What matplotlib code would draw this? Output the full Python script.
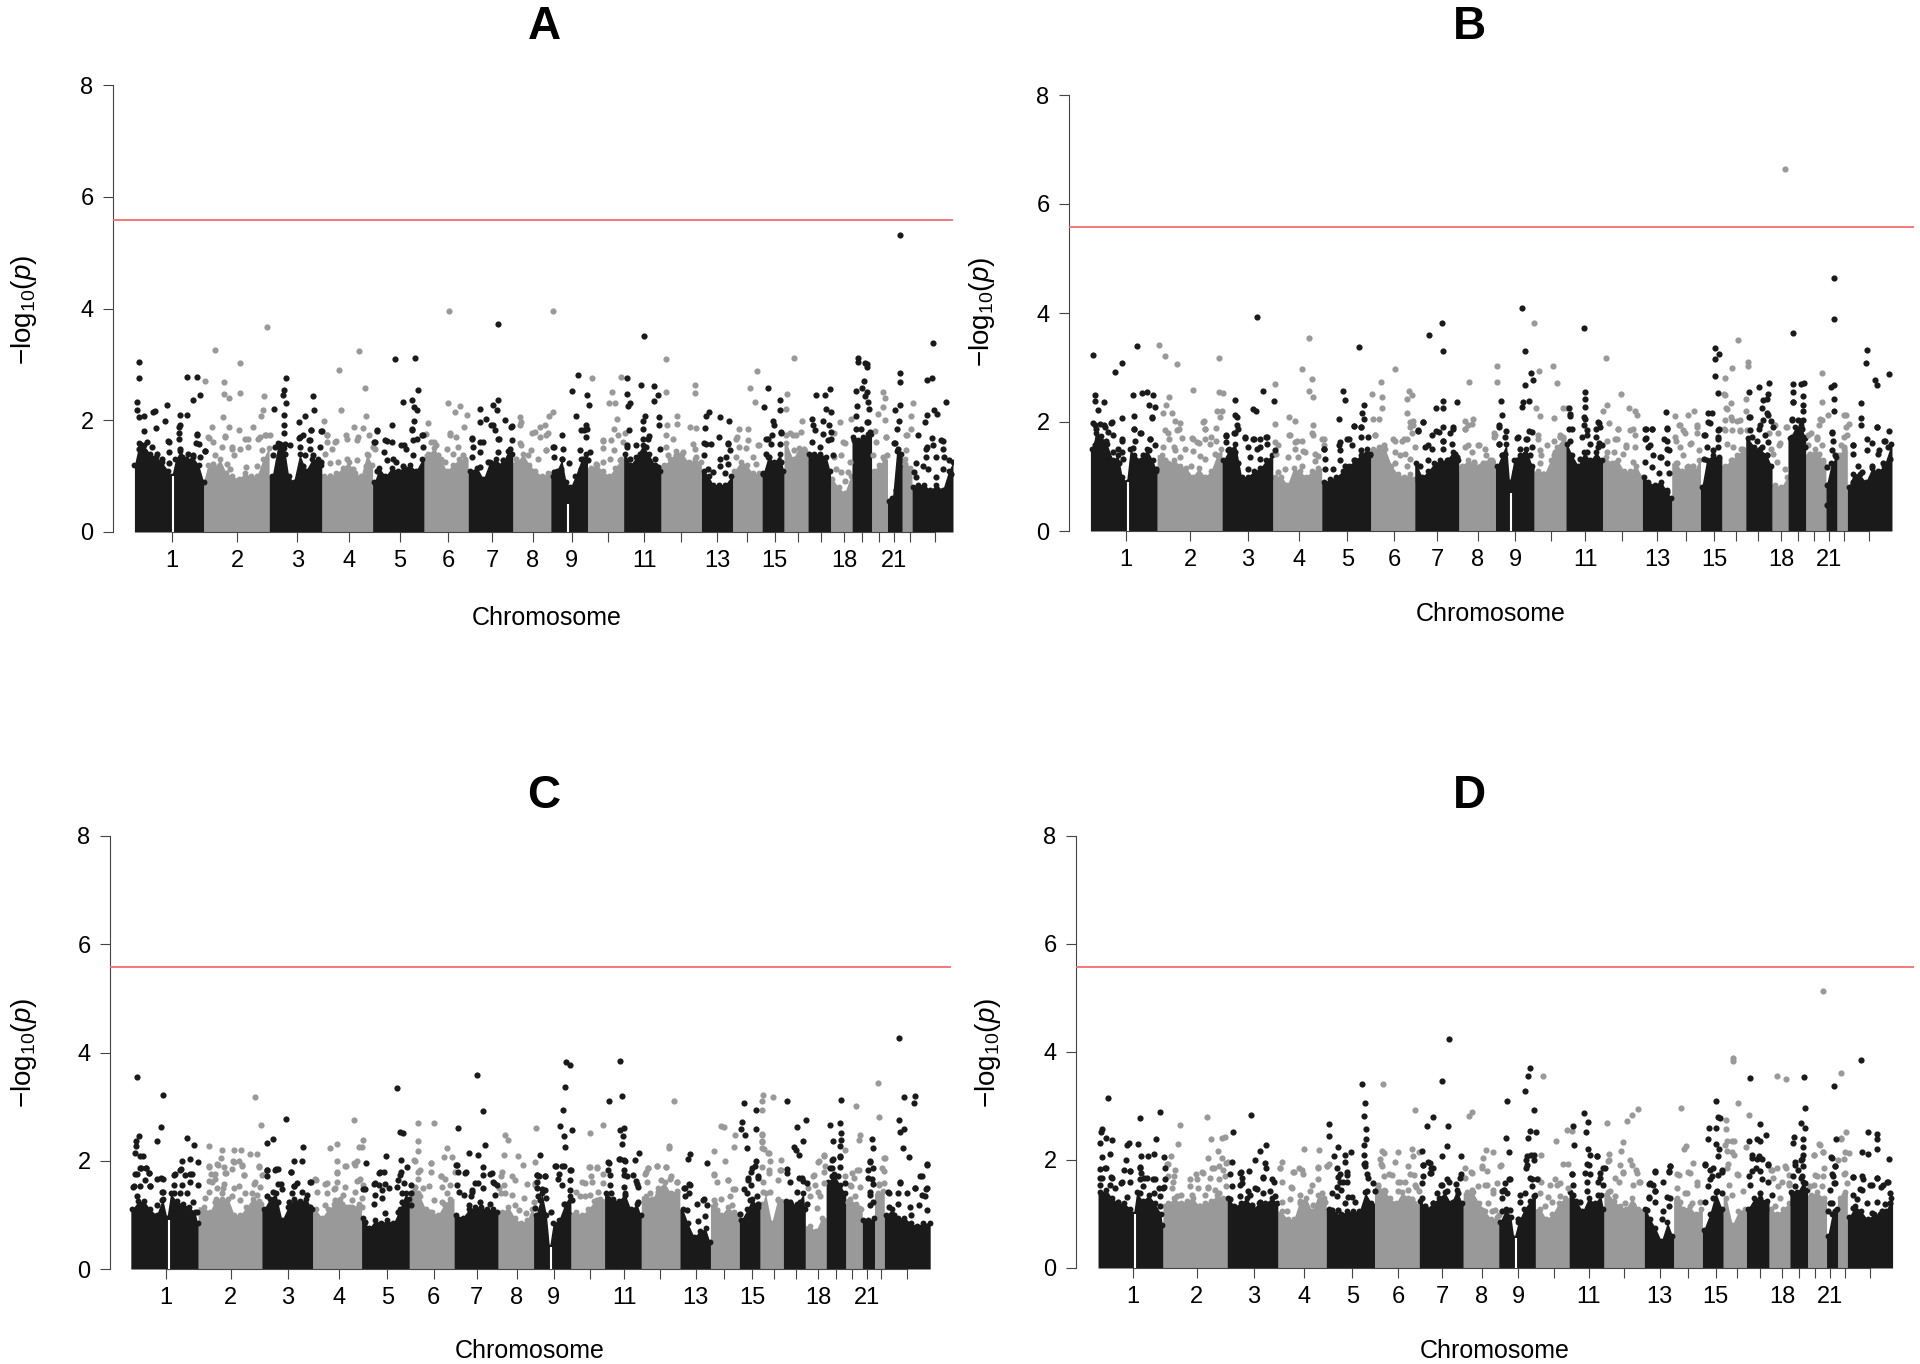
import numpy as np
import matplotlib
matplotlib.use('Agg')
import matplotlib.pyplot as plt

plt.rcParams['font.family'] = ['Liberation Sans', 'DejaVu Sans']
plt.rcParams['mathtext.fontset'] = 'custom'
plt.rcParams['mathtext.rm'] = 'Liberation Sans'
plt.rcParams['mathtext.it'] = 'Liberation Sans:italic'

tick_labels = ['1', '2', '3', '4', '5', '6', '7', '8', '9', '', '11', '', '13', '', '15', '', '', '18', '', '', '21', '', '']
threshold = 5.58

# position along the genome, one scale per panel, then -log10(p)
A_bounds = [220, 333, 440, 526, 609, 693, 765, 838, 900, 960, 1019, 1080, 1146, 1197, 1245, 1281, 1320, 1357, 1392, 1424, 1450, 1474, 1490, 1557]
A_ticks = [281, 388, 486, 571, 653, 732, 804, 871, 934, 994, 1053, 1112, 1172, 1220, 1266, 1304, 1341, 1379, 1409, 1436, 1461, 1486, 1528]
A_gaps = [(283, 1.0), (928, 0.5)]
A_top = [(220,1.2),(228,1.6),(236,1.55),(245,1.4),(255,1.35),(265,1.25),(275,1.1),(281,1.0),(287,1.3),(295,1.45),(305,1.3),(315,1.35),(325,1.2),(333,0.9),
         (340,1.2),(350,1.15),(360,1.3),(370,1.05),(380,1.0),(390,0.95),(400,1.05),(410,1.0),(420,1.0),(430,1.3),(439,1.5),
         (445,1.0),(455,1.6),(465,1.5),(472,1.0),(480,0.9),(490,1.4),(500,1.1),(510,1.3),(520,1.3),(525,1.2),
         (530,1.0),(540,1.0),(550,1.05),(560,1.15),(570,1.25),(580,1.05),(590,1.0),(600,1.4),(608,1.2),
         (612,0.9),(620,1.15),(630,1.0),(640,1.15),(650,1.1),(660,1.15),(670,1.2),(680,1.1),(690,1.3),
         (700,1.4),(710,1.5),(720,1.3),(730,1.1),(740,1.2),(750,1.3),(760,1.3),
         (768,1.1),(780,1.15),(790,0.95),(800,1.25),(810,1.3),(820,1.2),(830,1.45),(837,1.4),
         (845,1.25),(855,1.4),(865,1.2),(875,1.1),(885,1.0),(895,1.05),
         (903,1.0),(910,1.1),(918,1.3),(925,0.9),(932,0.8),(940,1.0),(950,1.3),(958,1.4),
         (965,1.15),(975,1.2),(985,1.1),(995,1.0),(1005,1.15),(1015,1.3),
         (1022,1.4),(1030,1.2),(1040,1.35),(1050,1.55),(1060,1.4),(1070,1.2),(1078,1.1),
         (1085,1.2),(1095,1.3),(1105,1.45),(1115,1.4),(1125,1.25),(1135,1.3),(1145,1.25),
         (1150,1.1),(1158,1.0),(1165,0.85),(1175,0.85),(1185,0.85),(1195,1.0),
         (1200,1.1),(1210,1.25),(1220,1.2),(1230,1.05),(1240,1.05),
         (1247,1.05),(1255,1.35),(1265,1.25),(1275,1.4),(1280,1.1),
         (1285,1.6),(1295,1.3),(1305,1.5),(1315,1.45),
         (1322,1.4),(1330,1.4),(1340,1.4),(1350,1.35),(1356,1.1),
         (1360,0.95),(1370,0.8),(1380,0.7),(1390,1.0),
         (1394,1.7),(1402,1.65),(1410,1.7),(1418,1.75),(1423,1.75),
         (1428,1.1),(1436,1.2),(1445,1.3),
         (1452,0.55),(1458,0.6),(1465,1.45),(1472,1.4),
         (1478,1.3),(1486,1.15),
         (1492,0.8),(1500,0.85),(1510,0.85),(1520,0.75),(1530,0.85),(1540,0.75),(1550,1.1),(1557,1.25)]
A_black = [(228,3.04),(228,2.76),(225,2.32),(225,2.19),(228,2.05),(236,2.07),(250,2.14),(253,2.17),(273,2.28),(270,1.99),(255,1.87),(235,1.81),(275,1.63),
           (306,2.77),(322,2.77),(327,2.46),(315,2.36),(306,2.09),(295,2.10),(295,1.92),(293,1.77),(322,1.76),(320,1.59),(335,1.45),
           (467,2.76),(464,2.54),(462,2.45),(448,2.21),(467,2.30),(465,2.10),(465,1.92),(512,2.43),(498,2.08),(513,2.18),(488,1.96),(525,1.81),(508,1.83),(464,1.77),(490,1.70),(505,1.64),
           (645,3.10),(678,3.12),(683,2.55),(658,2.32),(673,2.36),(676,2.23),(681,2.18),(640,1.92),(676,1.99),(617,1.81),(673,1.85),(632,1.63),(612,1.61),(660,1.55),(690,1.74),
           (814,3.73),(814,2.36),(805,2.28),(785,2.20),(812,2.18),(795,2.03),(825,2.01),(835,1.88),(805,1.92),(785,1.96),(772,1.69),(790,1.61),(815,1.66),
           (945,2.81),(935,2.53),(960,2.46),(963,2.28),(941,2.08),(958,1.92),(918,1.74),(950,1.83),(960,1.85),(905,1.52),
           (1052,3.50),(1024,2.75),(1048,2.63),(1069,2.61),(1025,2.47),(1075,2.46),(1069,2.34),(1030,2.31),(1026,2.25),(1054,2.07),(1077,2.05),(1050,1.99),(1077,1.92),(1028,1.82),(1060,1.72),(1025,1.55),
           (1158,2.14),(1153,2.08),(1176,2.05),(1191,1.98),(1152,1.86),(1175,1.70),(1190,1.59),(1150,1.59),
           (1255,2.58),(1274,2.37),(1249,2.23),(1274,2.19),(1263,1.99),(1265,1.92),(1262,1.74),(1276,1.77),(1255,1.66),
           (1333,2.46),(1348,2.45),(1356,2.56),(1350,2.21),(1358,2.14),(1327,2.03),(1345,1.99),(1328,1.92),(1355,1.92),(1357,1.66),
           (1402,3.11),(1402,3.05),(1414,3.03),(1417,3.01),(1416,2.96),(1411,2.70),(1409,2.58),(1398,2.52),(1417,2.50),(1414,2.43),(1418,2.32),(1400,2.26),(1420,2.20),(1398,2.07),(1417,1.96),
           (1470,5.31),(1470,2.84),(1470,2.68),(1471,2.28),(1463,2.18),(1468,1.99),(1465,1.85),(1462,1.59),
           (1524,3.38),(1522,2.76),(1515,2.72),(1546,2.33),(1526,2.19),(1531,2.12),(1515,2.10),(1512,1.96),(1500,1.74),(1522,1.69),(1540,1.63),(1515,1.52)]
A_black_band = [(229,1.58),(240,1.61),(227,1.49),(248,1.52),(237,1.43),(257,1.40),(265,1.31),(276,1.43),(276,1.61),(276,1.24),(246,1.34),
                (293,1.67),(295,1.49),(293,1.88),(322,1.73),(325,1.58),(335,1.45),(308,1.40),(297,1.34),(327,1.34),(316,1.37),
                (450,1.53),(447,1.37),(466,1.57),(458,1.58),(474,1.55),(466,1.40),(488,1.68),(496,1.73),(490,1.52),(499,1.37),(507,1.64),(509,1.83),(507,1.49),(523,1.52),(526,1.81),(496,1.19),(525,1.25),(512,1.37),(463,1.25),
                (616,1.82),(613,1.61),(629,1.64),(640,1.61),(628,1.43),(656,1.55),(664,1.49),(675,1.37),(675,1.64),(673,1.82),(681,1.67),(691,1.73),(692,1.52),(643,1.31),(632,1.28),(648,1.25),(616,1.10),(659,1.19),
                (771,1.67),(773,1.52),(784,1.61),(771,1.34),(784,1.43),(803,1.91),(809,1.82),(814,1.67),(836,1.64),(836,1.89),(798,1.25),(814,1.43),(833,1.49),(822,1.28),(784,1.16),
                (904,1.52),(905,1.34),(920,1.49),(919,1.31),(917,1.13),(906,1.07),(930,1.24),(947,1.46),(964,1.43),(950,1.13),(953,1.31),(961,1.28),(958,1.70),(955,1.82),
                (1025,1.53),(1029,1.31),(1040,1.55),(1051,1.67),(1051,1.85),(1045,1.40),(1056,1.52),(1078,1.49),(1070,1.31),(1075,1.16),(1032,1.19),(1059,1.67),
                (1154,1.58),(1162,1.57),(1151,1.37),(1157,1.13),(1165,1.07),(1176,1.31),(1176,1.18),(1189,1.58),(1192,1.46),(1186,1.34),(1184,1.06),(1189,1.22),
                (1252,1.67),(1260,1.58),(1274,1.58),(1252,1.40),(1276,1.79),(1257,1.34),(1276,1.25),(1246,1.04),
                (1327,1.61),(1344,1.76),(1353,1.64),(1361,1.37),(1339,1.52),(1358,1.79),(1331,1.82),
                (1399,1.85),(1407,1.85),(1418,1.97),(1421,1.79),(1396,1.64),
                (1467,1.49),(1468,1.19),(1461,1.59),(1467,0.92),(1464,0.75),
                (1497,1.24),(1508,1.19),(1516,1.13),(1513,1.49),(1524,1.55),(1538,1.64),(1540,1.49),(1529,1.34),(1543,1.34),(1551,1.28),(1497,0.98),(1529,0.98),(1540,1.13),(1554,1.04),(1513,1.34),(1494,1.07)]
A_grey = [(335,2.70),(351,3.25),(366,2.69),(366,2.47),(374,2.39),(393,3.02),(392,2.48),(436,3.67),(432,2.43),(430,2.18),(426,2.08),(364,2.05),(347,1.88),(375,1.88),(390,1.82),(414,1.88),(435,1.73),(340,1.70),(368,1.70),(405,1.66),(425,1.70),(380,1.52),
          (554,2.90),(586,3.24),(596,2.58),(557,2.18),(598,2.07),(530,1.99),(578,1.88),(594,1.87),(566,1.74),(535,1.74),(550,1.63),(585,1.70),(603,1.74),(610,1.52),
          (733,3.95),(732,2.31),(752,2.25),(743,2.14),(764,2.10),(700,1.95),(758,1.88),(735,1.77),(710,1.61),(745,1.70),
          (903,3.96),(903,2.14),(897,2.08),(850,2.05),(850,1.92),(882,1.88),(870,1.77),(850,1.59),(890,1.92),(895,1.77),
          (968,2.76),(1000,2.50),(995,2.30),(1005,2.30),(1009,2.03),(985,1.63),(1004,1.85),(1014,2.77),(1022,1.77),
          (1088,3.09),(1088,2.50),(1107,2.07),(1090,1.92),(1107,1.93),(1128,1.88),(1137,1.86),(1136,2.63),(1136,2.49),(1100,1.66),
          (1237,2.88),(1225,2.58),(1234,2.32),(1208,1.85),(1205,1.70),(1222,1.85),(1240,1.55),
          (1297,3.11),(1286,2.47),(1285,2.21),(1310,1.99),(1290,1.77),(1300,1.74),
          (1373,1.97),(1362,1.77),(1380,1.59),(1390,2.03),
          (1442,2.50),(1446,2.39),(1434,2.12),(1443,2.24),(1446,2.01),(1430,1.80),(1448,1.70),
          (1491,2.31),(1488,2.08),(1488,1.85),(1482,1.74)]
A_grey_band = [(341,1.69),(349,1.61),(368,1.71),(363,1.52),(379,1.49),(401,1.67),(406,1.52),(422,1.67),(433,1.73),(441,1.73),(429,1.46),(352,1.37),(349,1.22),(371,1.22),(382,1.37),(403,1.16),(420,1.19),(433,1.28),(376,1.13),(392,1.49),
               (534,1.73),(534,1.61),(548,1.61),(567,1.67),(583,1.65),(542,1.49),(531,1.40),(567,1.31),(583,1.28),(602,1.37),(613,1.49),(539,1.24),(553,1.25),(577,1.13),(599,1.19),(539,1.01),(567,1.04),
               (697,1.76),(705,1.61),(713,1.55),(735,1.73),(730,1.49),(749,1.53),(741,1.40),(757,1.37),(716,1.37),(727,1.25),(751,1.19),
               (844,1.31),(852,1.55),(852,1.97),(868,1.47),(882,1.70),(874,1.79),(893,1.47),(863,1.37),(879,1.31),(893,1.73),(893,1.46),
               (985,1.65),(985,1.51),(999,1.64),(1004,1.46),(1010,1.74),(1018,1.61),(974,1.22),(996,1.31),(1013,1.28),(985,1.25),
               (1088,1.52),(1089,1.73),(1116,1.43),(1132,1.58),(1135,1.49),(1091,1.37),(1105,1.37),(1124,1.19),(1138,1.34),(1100,1.16),
               (1203,1.67),(1208,1.52),(1222,1.64),(1219,1.51),(1238,1.55),(1236,1.22),(1203,1.34),(1214,1.19),(1230,1.34),
               (1285,1.73),(1295,1.73),(1298,1.46),(1309,1.79),(1314,1.49),(1295,1.28),(1312,1.34),(1287,1.37),
               (1363,1.34),(1377,1.61),(1374,1.37),(1388,1.25),(1366,1.13),(1374,1.07),(1385,1.07),(1380,0.92),
               (1431,1.61),(1426,1.37),(1442,1.34),(1448,1.70),(1440,1.16),(1450,1.37),
               (1480,1.73),(1480,1.46),(1478,1.22)]

B_bounds = [213, 322, 428, 511, 591, 671, 743, 815, 875, 938, 990, 1050, 1115, 1163, 1210, 1245, 1284, 1327, 1353, 1382, 1415, 1433, 1450, 1523]
B_ticks = [271, 376, 470, 554, 633, 709, 780, 846, 907, 966, 1022, 1081, 1139, 1186, 1232, 1268, 1304, 1342, 1369, 1396, 1420, 1445, 1486]
B_gaps = [(275, 0.9), (900, 0.7)]
B_top = [(215,1.5),(222,1.8),(230,1.75),(240,1.6),(250,1.3),(258,1.4),(265,1.0),(272,0.9),(278,1.5),(285,1.4),(295,1.3),(305,1.5),(315,1.3),(321,1.1),
         (330,1.4),(340,1.25),(350,1.3),(360,1.2),(370,1.15),(380,1.0),(390,1.15),(400,1.0),(410,1.1),(420,1.4),(427,1.5),
         (430,1.3),(440,1.5),(450,1.6),(460,1.0),(470,1.0),(480,1.1),(490,1.15),(500,1.3),(510,1.4),
         (515,1.0),(525,1.0),(535,0.85),(545,1.15),(555,1.1),(565,1.0),(575,1.1),(585,1.15),
         (595,0.9),(605,0.95),(615,1.0),(625,1.1),(635,1.2),(645,1.3),(655,1.4),(665,1.5),(670,1.4),
         (675,1.5),(685,1.55),(695,1.5),(705,1.2),(715,1.05),(725,1.0),(735,1.05),(742,0.95),
         (745,1.25),(755,1.0),(765,1.1),(775,1.25),(785,1.3),(795,1.3),(805,1.45),(814,1.3),
         (820,1.2),(830,1.3),(840,1.25),(850,1.2),(860,1.25),(870,1.3),
         (878,1.2),(885,1.4),(893,1.6),(898,0.9),(905,1.3),(915,1.4),(925,1.5),(935,1.2),
         (945,1.1),(955,1.05),(965,1.3),(975,1.55),(985,1.7),
         (992,1.6),(1000,1.4),(1010,1.2),(1020,1.45),(1030,1.3),(1040,1.45),(1049,1.3),
         (1055,1.35),(1065,1.25),(1075,1.3),(1085,1.1),(1095,1.1),(1105,1.2),(1114,1.0),
         (1117,1.0),(1125,0.9),(1135,0.85),(1145,0.9),(1155,0.75),(1162,0.6),
         (1170,1.25),(1180,1.1),(1190,1.2),(1200,1.1),(1208,1.3),
         (1212,0.8),(1220,1.3),(1230,1.4),(1240,1.35),
         (1250,1.2),(1260,1.3),(1270,1.4),(1280,1.5),
         (1288,1.7),(1298,1.55),(1308,1.5),(1318,1.4),(1326,1.2),
         (1332,0.85),(1342,0.8),(1352,1.0),
         (1356,1.7),(1365,1.9),(1375,1.95),(1381,1.7),
         (1388,1.4),(1398,1.5),(1410,1.3),
         (1416,0.85),(1424,1.25),(1432,1.35),
         (1436,1.4),(1444,1.5),
         (1452,0.8),(1460,1.05),(1470,1.05),(1480,0.9),(1490,1.15),(1500,1.1),(1510,1.2),(1522,1.6)]
B_black = [(218,3.23),(264,3.09),(253,2.91),(289,3.40),(221,2.49),(221,2.38),(236,2.36),(225,2.22),(283,2.49),(298,2.53),(305,2.55),(316,2.49),(309,2.31),(318,2.27),(313,2.08),(265,2.08),(285,2.11),(218,1.99),(247,1.99),(235,1.95),(222,1.87),(285,1.87),(295,1.80),(265,1.66),(310,1.69),(258,1.50),
           (485,3.93),(495,2.56),(449,2.41),(479,2.23),(484,2.20),(513,2.38),(450,2.13),(452,1.95),(435,1.76),(465,1.72),(480,1.69),(500,1.72),(447,1.80),(490,1.54),
           (652,3.38),(626,2.56),(629,2.41),(660,2.32),(620,2.06),(657,2.16),(660,2.06),(643,1.93),(655,1.91),(633,1.69),(595,1.50),(620,1.57),
           (767,3.60),(787,3.82),(790,3.30),(777,2.26),(790,2.38),(789,2.26),(812,2.36),(757,2.00),(805,1.91),(778,1.84),(790,1.91),(748,1.84),(765,1.57),(790,1.65),
           (918,4.10),(924,3.30),(933,2.90),(936,2.77),(924,2.67),(884,2.38),(920,2.37),(930,2.38),(918,2.28),(886,2.13),(880,1.95),(893,1.84),(930,1.84),(912,1.72),(925,1.69),
           (1020,3.72),(1022,2.55),(1022,2.43),(995,2.26),(1022,2.28),(997,2.11),(1020,2.10),(1044,1.99),(1020,1.95),(1040,1.87),(995,1.87),(1025,1.76),(1045,1.61),
           (1153,2.19),(1120,1.87),(1130,1.87),(1155,1.89),(1120,1.69),(1150,1.69),(1125,1.54),(1155,1.50),(1145,1.35),
           (1233,3.36),(1241,3.24),(1233,3.15),(1233,2.85),(1239,2.53),(1222,2.17),(1229,2.17),(1225,1.99),(1240,1.87),(1215,1.76),(1238,1.72),
           (1306,2.65),(1322,2.72),(1290,2.55),(1320,2.51),(1312,2.40),(1318,2.43),(1310,2.25),(1318,2.17),(1290,2.10),(1325,2.02),(1305,1.87),(1328,1.91),(1295,1.72),
           (1362,3.63),(1362,2.70),(1375,2.70),(1380,2.71),(1362,2.55),(1378,2.47),(1362,2.36),(1378,2.32),(1378,2.21),(1360,2.06),(1375,2.02),(1375,1.91),
           (1429,4.64),(1429,3.89),(1429,2.67),(1424,2.65),(1429,2.43),(1429,2.21),(1425,1.80),
           (1482,3.32),(1481,3.09),(1518,2.88),(1496,2.77),(1499,2.68),(1473,2.34),(1473,2.08),(1473,1.95),(1498,1.91),(1518,1.84),(1510,1.65),(1460,1.57),(1490,1.61),(1500,1.42)]
B_black_band = [(220,1.94),(229,1.97),(237,1.91),(248,2.0),(242,1.82),(226,1.72),(250,1.76),(220,1.57),(239,1.66),(264,1.68),(250,1.45),(264,1.45),(267,1.33),(245,1.27),(259,1.24),
                (285,1.88),(294,1.80),(310,1.69),(286,1.66),(318,1.57),(308,1.48),(283,1.53),(299,1.39),(308,1.27),(321,1.14),(313,2.09),
                (434,1.74),(434,1.63),(449,1.79),(455,1.88),(452,2.09),(438,1.48),(449,1.45),(466,1.71),(478,1.69),(490,1.68),(502,1.72),(471,1.54),(485,1.51),(501,1.59),(515,1.48),(474,1.36),(490,1.33),(504,1.24),(471,1.14),(455,1.24),
                (595,1.51),(597,1.33),(596,1.14),(621,1.63),(635,1.69),(640,1.57),(621,1.48),(621,1.31),(643,1.92),(655,1.90),(656,1.72),(667,1.72),(670,1.42),(656,1.48),(610,1.14),(643,1.30),(629,1.20),
                (749,1.85),(757,2.0),(771,1.76),(782,1.82),(790,1.66),(801,1.80),(806,1.88),(760,1.54),(771,1.51),(804,1.59),(790,1.51),(765,1.30),(779,1.20),(809,1.42),(752,1.20),(812,1.36),(798,1.30),
                (880,1.91),(880,1.60),(885,1.39),(891,1.72),(891,1.42),(880,1.60),(910,1.71),(926,1.69),(934,1.82),(934,1.55),(915,1.51),(923,1.42),(910,1.30),(931,1.39),(907,1.08),
                (997,1.66),(997,2.15),(1000,1.88),(1013,1.33),(1024,1.85),(1021,2.06),(1016,1.72),(1030,1.60),(1043,2.0),(1046,1.91),(1040,1.72),(1043,1.54),(1049,1.57),(1024,1.45),(1043,1.24),(997,1.39),
                (1121,1.88),(1131,1.87),(1121,1.71),(1127,1.57),(1133,1.39),(1119,1.27),(1130,1.17),(1144,1.36),(1155,1.88),(1155,1.66),(1159,1.48),(1155,1.24),(1158,1.06),(1143,1.06),(1144,0.84),(1155,0.72),(1141,0.65),
                (1218,1.77),(1223,2.0),(1239,1.86),(1239,1.69),(1220,1.54),(1231,1.48),(1239,1.54),(1215,1.33),(1226,1.20),
                (1291,2.09),(1291,1.85),(1307,1.94),(1313,2.03),(1316,1.76),(1321,2.12),(1302,1.66),(1310,1.54),(1321,1.63),(1318,1.39),(1291,1.36),
                (1362,2.37),(1359,2.03),(1370,2.03),(1378,2.03),(1376,1.88),(1359,1.72),(1378,1.72),(1359,1.54),(1381,1.54),(1362,1.39),(1376,1.42),
                (1425,1.82),(1427,1.66),(1425,1.48),(1430,1.39),(1416,1.17),(1419,0.84),(1416,0.47),
                (1460,1.57),(1460,1.42),(1482,1.69),(1482,1.48),(1501,1.48),(1498,1.91),(1512,1.66),(1517,1.54),(1520,1.33),(1468,1.20),(1490,1.20),(1509,1.24),(1474,1.08),(1517,1.08),(1466,0.99),(1496,0.93),(1460,0.90)]
B_grey = [(325,3.41),(335,3.21),(355,3.06),(381,2.58),(423,3.18),(423,2.55),(429,2.53),(341,2.45),(337,2.31),(331,2.16),(347,2.16),(352,2.02),(360,1.99),(420,2.21),(428,2.20),(398,2.02),(425,2.10),(357,1.87),(400,1.87),(380,1.69),(390,1.61),(340,1.80),(410,1.72),(350,1.54),
          (570,3.54),(558,2.97),(575,2.79),(570,2.56),(577,2.46),(515,2.70),(538,2.10),(548,2.02),(577,1.95),(515,1.97),(538,1.76),(575,1.80),(550,1.65),(592,1.69),(520,1.57),(560,1.46),
          (711,2.97),(688,2.73),(674,2.51),(689,2.45),(733,2.56),(738,2.49),(730,2.43),(675,2.06),(684,2.06),(730,2.17),(690,2.25),(740,2.02),(735,1.91),(748,1.84),(710,1.66),(678,1.76),(725,1.69),
          (877,3.02),(877,2.73),(831,2.74),(825,2.02),(838,2.06),(830,1.95),(825,1.87),(873,1.80),(830,1.57),(848,1.57),(860,1.39),
          (938,3.82),(946,2.94),(969,3.03),(976,2.71),(942,2.25),(948,2.11),(970,2.08),(985,2.26),(992,2.25),(980,1.76),(945,1.69),(960,1.57),
          (1055,3.17),(1080,2.52),(1058,2.32),(1093,2.25),(1107,2.13),(1103,2.20),(1050,2.21),(1075,1.87),(1100,1.87),(1060,1.99),(1070,1.69),(1088,1.57),
          (1168,2.11),(1190,2.13),(1200,2.21),(1175,1.95),(1205,1.95),(1185,1.80),(1170,1.65),(1195,1.61),
          (1272,3.51),(1261,2.99),(1250,2.81),(1287,3.11),(1287,3.02),(1248,2.51),(1252,2.26),(1260,2.34),(1260,2.10),(1270,2.02),(1285,2.21),(1285,2.43),(1248,1.87),(1275,1.84),
          (1348,6.64),(1322,1.80),(1330,1.95),(1350,1.91),(1340,1.61),(1325,1.50),
          (1409,2.89),(1408,2.36),(1405,2.06),(1390,1.80),(1400,1.69),(1385,1.57),
          (1418,2.12),(1445,2.13),(1448,1.91),(1440,1.57),(1445,1.72)]
B_grey_band = [(335,1.85),(354,1.85),(362,1.71),(341,1.68),(332,1.54),(351,1.48),(368,1.51),(381,1.47),(379,1.70),(388,1.63),(400,1.69),(408,1.59),(419,1.65),(419,1.89),(397,2.0),(400,1.88),(417,1.42),(392,1.37),(359,1.36),(335,1.30),(351,1.20),(378,1.20),(400,1.33),
               (515,1.63),(517,1.42),(539,1.76),(547,1.63),(559,1.65),(547,1.51),(536,1.36),(564,1.45),(553,1.35),(577,1.77),(580,1.42),(585,1.37),(594,1.68),(594,1.57),(580,1.28),(531,1.14),(558,1.20),(520,1.08),
               (678,1.76),(692,1.57),(708,1.68),(722,1.66),(730,1.69),(711,1.45),(719,1.39),(735,2.0),(741,1.94),(738,1.79),(744,1.54),(727,1.42),(711,1.25),(735,1.33),(730,1.20),
               (825,1.88),(836,1.97),(825,1.54),(847,1.57),(858,1.51),(836,1.45),(820,1.17),(866,1.30),(855,1.24),(872,1.72),(840,1.27),(874,1.76),(869,1.27),
               (948,1.48),(950,1.39),(945,1.76),(970,1.66),(980,1.72),(986,1.72),(972,1.45),(983,1.42),(948,1.24),(970,1.39),(953,1.05),(980,1.24),
               (1057,1.66),(1076,1.88),(1073,1.68),(1095,1.85),(1103,1.76),(1089,1.54),(1103,1.54),(1068,1.45),(1057,1.45),(1084,1.42),(1070,1.24),(1100,1.27),
               (1177,1.94),(1182,1.85),(1168,1.72),(1204,1.91),(1204,1.79),(1177,1.54),(1193,1.60),(1207,1.48),(1182,1.39),(1198,1.20),(1171,1.24),(1188,1.17),
               (1250,2.49),(1253,2.24),(1261,2.03),(1250,2.03),(1275,2.03),(1250,1.85),(1261,1.85),(1275,1.85),(1286,1.85),(1253,1.60),(1264,1.54),(1277,1.51),(1261,1.30),
               (1332,1.94),(1337,1.79),(1339,1.57),(1335,1.27),(1348,1.14),(1329,1.42),(1351,1.91),
               (1386,1.76),(1400,1.72),(1403,1.94),(1408,2.03),(1408,1.57),(1389,1.42),(1403,1.42),(1397,1.27),
               (1448,2.12),(1452,1.97),(1449,1.76),(1444,1.54),(1441,1.39)]

C_bounds = [213, 323, 427, 510, 590, 668, 741, 813, 871, 932, 987, 1047, 1110, 1160, 1207, 1241, 1279, 1315, 1349, 1381, 1408, 1428, 1444, 1519]
C_ticks = [271, 376, 470, 553, 632, 708, 778, 844, 904, 963, 1019, 1078, 1136, 1182, 1228, 1264, 1300, 1336, 1365, 1392, 1416, 1439, 1481]
C_gaps = [(275, 0.9), (899, 0.4)]
C_top = [(215,1.1),(225,1.25),(235,1.25),(245,1.1),(255,1.0),(265,1.3),(272,0.95),(278,1.4),(288,1.25),(298,1.2),(308,1.15),(318,1.05),(322,0.85),
         (332,1.15),(342,1.05),(352,1.3),(362,1.3),(372,1.3),(382,1.0),(392,1.0),(402,1.15),(412,1.3),(422,1.25),(426,1.2),
         (430,1.1),(440,1.3),(450,1.4),(460,0.9),(470,1.15),(480,1.3),(490,1.25),(500,1.3),(509,1.1),
         (515,1.1),(525,0.95),(535,1.1),(545,1.2),(555,1.3),(565,1.15),(575,1.15),(585,1.2),
         (592,0.95),(602,0.75),(612,0.9),(622,0.85),(632,0.9),(642,0.85),(652,1.1),(662,1.4),(667,1.3),
         (675,1.45),(685,1.35),(695,1.1),(705,1.05),(715,1.0),(725,1.2),(735,1.3),
         (745,1.0),(755,0.95),(765,1.1),(775,1.15),(785,1.15),(795,1.1),(805,1.1),(812,1.05),
         (820,1.05),(830,1.15),(840,0.95),(850,0.85),(860,0.9),(868,1.1),
         (875,1.0),(885,1.4),(892,1.0),(897,0.4),(903,0.85),(912,0.9),(922,1.2),(930,1.35),
         (940,1.05),(950,1.0),(960,1.1),(970,1.25),(980,1.3),
         (990,1.4),(1000,1.3),(1010,1.25),(1020,1.4),(1030,1.1),(1040,1.2),(1046,1.0),
         (1055,1.35),(1065,1.3),(1075,1.5),(1085,1.6),(1095,1.4),(1105,1.45),
         (1115,1.1),(1123,0.85),(1133,0.6),(1143,0.7),(1152,0.75),(1159,0.5),
         (1168,1.2),(1178,1.0),(1188,1.15),(1198,1.05),(1205,1.0),
         (1210,0.9),(1220,1.1),(1228,1.3),(1238,1.15),
         (1245,1.2),(1250,1.4),(1260,0.85),(1270,1.3),
         (1283,1.25),(1292,1.2),(1302,1.2),(1312,1.4),(1314,1.1),
         (1322,0.8),(1332,0.7),(1342,0.95),
         (1352,1.6),(1362,1.75),(1372,1.55),(1380,1.4),
         (1388,1.3),(1398,1.2),(1406,1.1),
         (1410,0.9),(1418,0.9),(1427,0.95),
         (1433,1.4),(1442,1.45),
         (1447,1.0),(1457,1.1),(1467,0.95),(1477,0.95),(1487,0.85),(1497,0.8),(1507,0.85),(1518,0.85)]
C_black = [(223,3.54),(265,3.21),(262,2.62),(226,2.46),(222,2.37),(256,2.36),(221,2.28),(220,2.14),(228,2.09),(233,2.09),(230,1.86),(238,1.86),(223,1.75),(243,1.77),(218,1.53),(262,1.68),(305,2.42),(317,2.29),(310,2.04),(323,1.98),(297,2.00),(295,1.84),(285,1.75),(310,1.75),(265,1.43),(245,1.54),
           (466,2.77),(446,2.40),(435,2.32),(495,2.26),(480,2.00),(492,1.99),(435,1.82),(450,1.84),(475,1.80),(508,1.61),(458,1.57),(480,1.54),
           (648,3.35),(653,2.53),(658,2.51),(630,2.09),(598,1.96),(655,2.01),(620,1.80),(593,1.47),(628,1.57),(665,1.89),(650,1.64),(610,1.57),(655,1.79),
           (778,3.59),(789,2.92),(747,2.60),(791,2.30),(765,2.14),(781,2.11),(745,1.93),(788,1.89),(747,1.80),(760,1.79),(800,1.75),(780,1.59),(805,1.61),(770,1.43),
           (924,3.82),(930,3.76),(923,3.37),(919,2.93),(915,2.65),(933,2.56),(920,2.46),(923,2.26),(882,2.11),(907,1.91),(920,1.91),(932,1.82),(880,1.72),(890,1.72),(912,1.75),(885,1.47),
           (1012,3.84),(1016,3.20),(995,3.10),(1018,2.60),(1012,2.57),(1017,2.46),(1016,2.31),(1043,2.14),(1012,2.03),(1037,2.02),(995,1.96),(1020,2.00),(993,1.82),(1018,1.73),(1040,1.57),
           (1126,2.13),(1124,2.04),(1155,1.95),(1125,1.57),(1118,1.50),(1150,1.29),(1125,1.40),
           (1215,3.06),(1234,2.94),(1212,2.71),(1210,2.59),(1234,2.58),(1217,2.48),(1220,2.23),(1235,1.99),(1228,1.86),(1222,1.68),(1215,1.47),(1238,1.72),
           (1285,3.11),(1301,2.62),(1316,2.75),(1312,2.36),(1296,2.26),(1300,2.20),(1304,2.11),(1285,1.84),(1310,1.68),(1290,1.61),
           (1373,3.12),(1356,2.66),(1372,2.70),(1360,2.37),(1373,2.51),(1373,2.39),(1372,2.28),(1372,2.07),(1360,2.04),(1355,1.86),
           (1424,2.41),(1425,2.23),(1420,1.99),(1425,1.86),(1418,1.68),(1425,1.57),(1420,1.36),
           (1468,4.26),(1477,3.17),(1494,3.19),(1493,3.07),(1468,2.76),(1477,2.58),(1469,2.54),(1475,2.23),(1484,2.07),(1513,1.94),(1503,1.72),(1470,1.61),(1495,1.50),(1512,1.48),(1450,1.43),(1505,1.36)]
C_black_band = [(228,1.86),(237,1.86),(220,1.75),(242,1.77),(236,1.64),(255,1.67),(266,1.66),(228,1.54),(217,1.52),(244,1.54),(223,1.35),(264,1.43),(255,1.18),(264,1.27),
                (283,1.74),(293,1.83),(302,1.74),(313,1.75),(283,1.55),(296,1.55),(310,1.61),(323,1.55),(283,1.40),(304,1.40),(293,1.40),(315,1.24),(296,1.09),(321,1.06),
                (435,1.83),(435,1.72),(449,1.83),(454,1.85),(453,1.57),(460,1.47),(446,1.43),(435,1.34),(454,1.24),(474,1.79),(479,1.54),(484,1.59),(492,1.43),(506,1.61),(476,1.40),(501,1.37),(471,1.24),(506,1.15),
                (596,1.47),(618,1.78),(626,1.79),(612,1.58),(618,1.55),(635,1.50),(623,1.46),(612,1.37),(623,1.31),(610,1.21),(653,1.74),(648,1.52),(659,1.58),(670,1.55),(656,1.40),(670,1.40),(656,1.24),(670,1.18),(629,1.03),(650,1.06),(596,0.87),
                (746,1.93),(759,1.78),(746,1.55),(749,1.43),(757,1.37),(768,1.34),(776,1.58),(770,1.46),(789,1.74),(803,1.77),(789,1.49),(806,1.58),(811,1.55),(808,1.37),(765,1.18),(784,1.24),(800,1.21),
                (877,1.74),(877,1.61),(879,1.34),(876,1.74),(890,1.71),(876,1.49),(890,1.46),(881,1.27),(892,1.31),(874,1.12),(887,1.03),(900,1.05),
                (906,1.91),(917,1.91),(911,1.67),(930,1.83),(930,1.64),(917,1.55),(930,1.46),(920,1.21),(933,1.27),(928,1.03),
                (993,1.98),(996,1.74),(996,1.55),(998,1.40),(1011,2.03),(1019,2.01),(1018,1.83),(1023,1.72),(1034,1.74),(1039,1.63),(1018,1.52),(1042,1.52),(1020,1.37),(1042,1.24),(1029,1.09),
                (1117,1.49),(1126,1.55),(1118,1.34),(1121,1.09),(1138,1.21),(1148,1.27),(1154,1.18),(1151,0.97),(1139,0.89),
                (1209,1.01),(1226,1.80),(1233,1.91),(1222,1.64),(1238,1.69),(1227,1.55),(1219,1.40),(1236,1.34),(1225,1.27),(1238,1.21),
                (1285,1.77),(1304,1.69),(1312,1.63),(1317,1.58),(1301,1.43),(1290,1.24),(1306,1.24),(1317,1.21),
                (1358,2.01),(1358,1.86),(1372,1.89),(1369,1.71),(1358,1.71),(1380,1.58),(1372,2.08),
                (1421,1.98),(1424,1.67),(1418,1.83),(1421,1.43),(1421,1.19),(1426,1.24),
                (1451,1.40),(1470,1.58),(1467,1.40),(1481,1.41),(1494,1.49),(1514,1.49),(1505,1.71),(1514,1.93),(1451,1.15),(1467,1.21),(1486,1.15),(1500,1.18),(1514,1.09),(1460,1.00),(1487,1.00),(1511,1.34)]
C_grey = [(416,3.17),(426,2.66),(340,2.28),(362,2.20),(382,2.20),(393,2.20),(408,2.12),(419,2.13),(361,2.06),(341,1.91),(355,1.93),(380,2.00),(395,1.93),(422,1.91),(350,1.75),(368,1.77),(398,1.74),(432,1.75),(345,1.61),(415,1.57),(365,1.57),
          (578,2.75),(592,2.39),(586,2.26),(590,2.26),(550,2.31),(538,2.23),(582,2.00),(550,2.00),(565,1.91),(578,1.96),(515,1.64),(550,1.79),(530,1.57),(545,1.47),(585,1.64),
          (682,2.70),(709,2.70),(683,2.36),(683,2.18),(730,2.24),(725,2.07),(738,2.07),(703,1.96),(677,2.00),(685,1.82),(720,1.72),(742,1.79),(700,1.54),
          (875,2.60),(824,2.48),(829,2.39),(823,2.11),(845,2.09),(853,1.93),(874,1.98),(820,1.79),(840,1.64),(815,1.50),(860,1.57),
          (964,2.52),(985,2.66),(962,1.89),(975,1.88),(965,1.72),(985,1.75),(950,1.61),(940,1.43),
          (1100,3.10),(1093,2.27),(1093,2.23),(1055,1.79),(1073,1.91),(1088,1.89),(1058,1.87),(1095,1.72),(1105,1.61),
          (1178,2.64),(1182,2.62),(1165,2.18),(1183,2.00),(1200,2.48),(1198,2.26),(1165,1.75),(1188,1.64),(1200,1.47),
          (1246,3.21),(1245,3.10),(1263,3.17),(1244,2.94),(1245,2.50),(1245,2.36),(1254,2.14),(1257,2.00),(1247,2.21),(1275,2.02),(1275,1.82),(1255,1.82),
          (1337,2.00),(1345,2.11),(1329,1.73),(1345,1.79),(1320,1.50),(1335,1.43),
          (1398,3.02),(1405,2.48),(1402,2.39),(1380,2.20),(1400,1.82),(1395,1.68),(1390,1.54),
          (1433,3.44),(1435,2.81),(1444,2.05),(1440,1.86),(1435,1.57)]
C_grey_band = [(341,1.89),(353,1.94),(366,1.89),(344,1.75),(367,1.77),(379,1.85),(381,1.98),(389,2.0),(395,1.91),(398,1.74),(340,1.63),(351,1.67),(353,1.50),(364,1.50),(381,1.50),(389,1.53),(416,1.60),(427,1.74),(422,1.89),(424,1.52),(340,1.43),(362,1.40),(378,1.34),(400,1.40),(411,1.40),(334,1.31),(351,1.24),(367,1.18),(392,1.27),(419,1.37),
               (514,1.66),(533,1.58),(550,1.61),(547,1.49),(563,1.91),(550,1.77),(563,1.52),(580,1.93),(582,1.63),(588,1.67),(593,1.55),(580,1.43),(533,1.40),(517,1.43),(560,1.37),(574,1.27),(590,1.31),(547,1.27),(531,1.18),(569,1.15),(558,1.21),(590,1.15),
               (675,2.01),(683,1.80),(683,1.67),(703,1.95),(704,1.79),(719,1.71),(727,1.66),(678,1.52),(691,1.49),(721,1.52),(735,1.55),(683,1.40),(708,1.27),(730,1.40),(721,1.24),(702,1.06),
               (817,1.71),(822,1.55),(836,1.72),(825,1.40),(836,1.37),(817,1.40),(855,1.32),(841,1.18),(874,1.55),(871,1.24),(847,1.09),(858,1.03),(873,1.58),
               (955,1.58),(966,1.61),(974,1.86),(963,1.89),(985,1.58),(963,1.37),(977,1.43),(947,1.34),(955,1.34),(974,1.27),
               (1053,1.75),(1058,1.87),(1072,1.90),(1088,1.88),(1056,1.61),(1080,1.64),(1094,1.67),(1105,1.60),(1061,1.40),(1083,1.40),(1099,1.37),(1075,1.43),(1056,1.21),(1088,1.24),
               (1165,1.74),(1170,1.61),(1188,1.64),(1197,1.48),(1192,1.34),(1165,1.27),(1178,1.29),(1195,1.18),(1170,1.09),
               (1244,2.47),(1245,2.35),(1245,2.23),(1255,2.14),(1245,1.89),(1255,1.77),(1246,1.61),(1257,1.43),(1274,1.83),(1271,1.64),(1271,1.27),(1246,1.43),
               (1328,1.72),(1331,1.56),(1336,1.98),(1346,2.09),(1347,1.90),(1345,1.59),(1339,1.34),(1323,1.35),(1334,1.12),
               (1380,1.71),(1391,1.77),(1403,1.83),(1388,1.55),(1405,1.51),(1396,1.35),(1385,1.24),(1402,1.12),
               (1445,2.05),(1444,1.81),(1443,1.59),(1435,1.55),(1437,1.31)]

D_bounds = [225, 331, 436, 519, 598, 677, 750, 822, 880, 940, 995, 1052, 1118, 1166, 1213, 1247, 1285, 1322, 1356, 1385, 1416, 1434, 1450, 1524]
D_ticks = [282, 386, 480, 562, 641, 716, 788, 852, 912, 970, 1027, 1085, 1143, 1189, 1235, 1270, 1307, 1343, 1371, 1397, 1421, 1446, 1487]
D_gaps = [(285, 1.0), (908, 0.55)]
D_top = [(228,1.4),(238,1.45),(248,1.3),(258,1.2),(268,1.2),(278,1.1),(283,1.0),(288,1.4),(298,1.25),(308,1.35),(318,1.2),(328,1.0),(330,0.8),
         (340,1.2),(350,1.3),(360,1.2),(370,1.25),(380,1.3),(390,1.15),(400,1.2),(410,1.25),(420,1.35),(430,1.3),
         (438,1.3),(448,1.15),(458,1.2),(468,1.3),(478,1.1),(488,1.2),(498,1.2),(510,1.3),(518,1.2),
         (525,1.05),(535,0.9),(545,0.9),(555,1.25),(565,1.3),(575,1.05),(585,1.35),(595,1.3),
         (602,1.1),(612,1.0),(622,1.0),(632,1.05),(642,1.05),(652,1.05),(662,1.4),(672,1.2),
         (682,1.5),(692,1.45),(702,1.3),(712,1.2),(722,1.4),(732,1.3),(742,1.2),
         (752,1.25),(762,1.1),(772,1.2),(782,1.3),(792,1.4),(802,1.2),(812,1.45),(820,1.2),
         (828,1.4),(838,1.4),(848,1.2),(858,1.05),(868,0.9),(878,0.95),
         (882,0.85),(892,1.1),(900,0.95),(905,0.55),(912,0.85),(922,1.1),(932,1.25),(939,1.35),
         (948,1.1),(958,0.9),(968,1.0),(978,1.2),(988,1.3),
         (997,1.4),(1007,1.25),(1017,1.05),(1027,1.3),(1037,1.2),(1047,1.35),(1051,1.1),
         (1058,1.4),(1068,1.25),(1078,1.15),(1088,1.1),(1098,1.3),(1108,1.1),
         (1120,1.1),(1128,0.9),(1136,0.75),(1146,0.5),(1156,0.85),(1164,0.6),
         (1172,1.3),(1182,1.1),(1192,1.15),(1202,1.0),(1210,1.1),
         (1215,0.7),(1225,1.0),(1235,1.4),(1245,1.1),
         (1252,1.3),(1262,0.8),(1272,1.05),(1282,1.1),
         (1288,1.1),(1298,1.3),(1308,1.3),(1318,1.25),
         (1325,1.1),(1335,1.0),(1345,1.1),(1354,1.2),
         (1358,1.4),(1368,1.4),(1378,1.6),(1384,1.45),
         (1390,1.35),(1400,1.4),(1412,1.3),
         (1418,0.6),(1425,1.0),(1433,1.1),
         (1438,1.3),(1446,1.4),
         (1453,0.95),(1463,1.15),(1473,1.05),(1483,0.9),(1493,1.0),(1503,1.0),(1513,1.05),(1522,1.3)]
D_black = [(242,3.15),(232,2.58),(230,2.51),(238,2.40),(228,2.32),(248,2.37),(275,2.32),(272,2.28),(245,2.12),(232,2.05),(270,2.00),(238,1.85),(278,1.80),(228,1.67),(248,1.67),(262,1.57),(294,2.78),(326,2.88),(319,2.39),(291,2.29),(295,2.08),(306,2.08),(316,2.12),(333,2.05),(293,1.87),(335,1.64),(315,1.64),(300,1.67),(333,1.50),
           (475,2.84),(445,2.52),(500,2.27),(490,2.16),(444,1.96),(482,2.00),(498,1.94),(500,1.85),(458,1.77),(472,1.80),(495,1.67),(510,1.64),(460,1.57),(485,1.46),
           (657,3.41),(603,2.67),(662,3.05),(660,2.82),(663,2.58),(603,2.44),(663,2.39),(617,2.25),(660,2.28),(638,2.14),(610,2.08),(628,2.10),(660,2.10),(628,1.96),(660,1.92),(620,1.75),(632,1.77),(665,1.75),(625,1.60),(615,1.50),(640,1.32),
           (798,4.24),(787,3.46),(772,2.79),(763,2.63),(797,2.63),(796,2.26),(755,2.17),(788,2.08),(818,2.08),(765,1.96),(770,1.85),(757,1.90),(770,1.76),(818,1.75),(795,1.64),(755,1.57),(785,1.53),
           (893,3.10),(923,3.27),(931,3.70),(928,3.56),(937,2.92),(932,2.54),(941,2.51),(928,2.40),(892,2.41),(897,2.15),(933,2.10),(925,2.00),(938,2.00),(925,1.85),(897,1.65),(935,1.64),(885,1.43),(915,1.35),
           (1019,2.87),(1001,2.63),(1026,2.71),(1023,2.51),(1003,2.28),(1026,2.21),(1030,2.10),(1040,2.08),(1025,1.92),(1050,1.85),(1000,1.75),(1030,1.75),(1045,1.67),
           (1135,1.80),(1160,1.89),(1158,1.80),(1128,1.57),(1155,1.32),(1135,1.43),(1125,1.32),
           (1236,3.09),(1238,2.79),(1242,2.77),(1224,2.59),(1236,2.59),(1222,2.38),(1236,2.30),(1240,2.21),(1238,2.07),(1218,1.92),(1230,1.85),(1245,1.78),(1225,1.64),
           (1291,3.51),(1307,2.66),(1290,2.35),(1303,2.39),(1307,2.35),(1317,2.47),(1294,2.10),(1305,2.07),(1320,1.92),(1300,1.85),(1290,1.71),(1310,1.64),
           (1379,3.53),(1380,2.97),(1375,2.69),(1380,2.59),(1363,2.42),(1362,2.32),(1378,2.39),(1378,2.25),(1378,2.10),(1365,1.96),(1375,2.00),(1370,1.82),(1375,1.67),
           (1429,3.37),(1431,2.39),(1423,2.05),(1430,1.89),(1425,1.75),(1428,1.57),(1425,1.21),
           (1473,3.86),(1484,2.51),(1498,2.48),(1498,2.39),(1498,2.20),(1474,2.14),(1483,2.12),(1518,2.01),(1460,1.69),(1498,1.67),(1475,1.64),(1515,1.60),(1490,1.53),(1505,1.50),(1470,1.46),(1460,1.35)]
D_black_band = [(228,1.84),(237,1.86),(231,1.67),(247,1.68),(228,1.54),(245,1.54),(264,1.60),(277,1.59),(267,1.82),(277,1.79),(253,1.48),(258,1.22),(272,1.31),
                (294,1.86),(296,1.76),(305,1.67),(294,1.64),(318,1.64),(335,1.85),(299,1.51),(324,1.49),(332,1.49),(316,1.39),(294,1.39),(326,1.33),(310,1.23),(326,1.14),
                (441,1.74),(457,1.76),(460,1.67),(457,1.54),(444,1.51),(471,1.42),(441,1.27),(457,1.33),(495,1.68),(512,1.60),(482,1.48),(495,1.39),(506,1.43),(514,1.33),(490,1.23),(476,1.17),(506,1.14),(474,1.36),
                (615,1.86),(618,1.68),(632,1.73),(621,1.60),(632,1.59),(623,1.45),(607,1.39),(615,1.33),(634,1.31),(645,1.22),(629,1.20),(607,1.08),(618,1.08),
                (662,1.94),(662,1.88),(667,1.67),(664,1.42),(675,1.57),(678,1.43),
                (757,1.91),(767,1.94),(773,1.86),(768,1.76),(756,1.71),(787,1.53),(798,1.60),(811,1.56),(817,1.67),(779,1.39),(754,1.30),(773,1.20),(795,1.42),(814,1.39),(790,1.20),(806,1.23),(760,1.14),
                (891,1.57),(888,1.45),(888,1.45),(899,1.65),(885,1.30),(893,1.39),(899,1.08),(885,1.05),(915,1.23),(926,2.07),(937,2.10),(926,1.91),(931,1.67),(942,1.64),(934,1.51),(923,1.39),(937,1.33),(912,0.90),
                (1000,1.74),(1002,1.54),(1027,1.91),(1040,2.07),(1054,1.85),(1021,1.76),(1046,1.76),(1024,1.60),(1043,1.60),(1051,1.54),(1002,1.36),(1024,1.42),(1043,1.36),(1013,1.23),
                (1136,1.78),(1133,1.54),(1125,1.56),(1136,1.42),(1125,1.30),(1136,1.22),(1160,1.88),(1158,1.78),(1148,1.59),(1160,1.30),(1149,1.05),(1158,1.14),(1147,0.90),(1122,1.08),
                (1218,1.91),(1226,1.82),(1228,1.70),(1239,1.73),(1245,1.82),(1223,1.51),(1237,1.42),(1245,1.39),(1218,1.22),(1231,1.30),
                (1294,2.04),(1302,2.01),(1310,2.01),(1321,1.91),(1294,1.79),(1291,1.54),(1307,1.79),(1321,1.60),(1307,1.39),(1294,1.11),(1327,1.36),
                (1365,1.91),(1376,2.01),(1378,1.88),(1362,1.70),(1376,1.70),(1365,1.51),(1381,1.57),(1359,1.39),
                (1425,2.04),(1430,1.88),(1427,1.70),(1422,1.45),(1430,1.57),(1422,1.20),(1419,1.05),(1430,1.05),(1422,0.56),
                (1460,1.69),(1474,1.70),(1474,1.45),(1487,1.54),(1498,1.67),(1509,1.53),(1517,1.60),(1520,1.39),(1465,1.27),(1482,1.20),(1498,1.22),(1512,1.19),(1520,1.20),(1460,1.11),(1491,1.02),(1507,1.05)]
D_grey = [(359,2.65),(355,2.29),(345,2.08),(403,2.80),(410,2.38),(421,2.17),(427,2.41),(433,2.42),(405,2.03),(428,2.03),(437,1.97),(338,1.92),(395,1.78),(415,1.85),(375,1.64),(385,1.75),(430,1.82),(350,1.71),(360,1.35),(405,1.50),
          (525,1.97),(562,2.20),(587,2.19),(523,1.85),(600,1.89),(585,1.87),(545,1.78),(560,1.75),(540,1.50),(575,1.53),
          (691,3.40),(744,2.93),(690,2.17),(715,2.14),(738,2.21),(750,2.14),(688,1.92),(710,1.96),(740,2.07),(700,1.75),(735,1.75),(718,1.60),(745,1.50),
          (836,2.89),(831,2.82),(860,2.19),(871,2.15),(855,2.03),(852,1.85),(835,1.78),(883,1.90),(858,1.53),(825,1.85),(878,1.57),
          (953,3.56),(973,2.35),(992,2.55),(1000,2.53),(950,2.10),(985,1.92),(993,1.92),(945,1.64),(975,1.53),(960,1.32),
          (1057,2.68),(1107,2.94),(1098,2.83),(1089,2.72),(1084,2.33),(1060,2.12),(1080,2.16),(1060,2.00),(1095,2.00),(1105,1.82),(1083,1.77),(1070,1.67),(1110,1.60),
          (1178,2.97),(1187,2.26),(1183,2.20),(1197,1.94),(1190,1.78),(1172,1.75),(1205,1.60),(1185,1.39),
          (1263,3.88),(1263,3.83),(1271,3.05),(1289,2.83),(1252,2.74),(1252,2.58),(1262,2.35),(1250,2.28),(1262,2.14),(1255,1.92),(1285,2.25),(1270,1.75),
          (1335,3.55),(1350,3.50),(1335,1.85),(1350,1.85),(1325,1.82),(1343,1.60),(1355,1.57),
          (1411,5.13),(1404,2.30),(1410,2.14),(1395,2.10),(1412,1.85),(1400,1.71),(1395,1.53),
          (1439,3.61),(1448,2.52),(1439,2.39),(1447,2.14),(1435,2.00),(1445,1.75)]
D_grey_band = [(340,1.93),(351,1.82),(340,1.70),(348,1.60),(346,1.48),(376,1.51),(386,1.64),(397,1.76),(411,1.85),(422,1.88),(435,1.94),(408,1.67),(422,1.64),(433,1.70),(389,1.48),(405,1.49),(416,1.45),(435,1.51),(354,1.33),(378,1.36),(400,1.36),(422,1.39),(359,1.17),(392,1.14),(411,1.23),
               (523,1.86),(544,1.77),(553,1.85),(558,1.82),(525,1.60),(542,1.48),(555,1.36),(572,1.42),(585,1.86),(600,1.88),(602,1.93),(585,1.64),(591,1.39),(539,1.27),(525,1.23),(555,1.20),(577,1.17),(596,1.23),(564,1.05),(534,1.05),
               (686,2.01),(692,2.13),(689,1.88),(692,1.70),(705,1.73),(683,1.54),(694,1.42),(716,1.60),(727,1.60),(732,1.88),(741,1.73),(743,1.54),(716,1.42),(732,1.45),(749,1.42),(694,1.20),(716,1.14),(738,1.27),
               (836,1.76),(825,1.67),(852,1.88),(861,1.79),(836,1.45),(847,1.51),(861,1.54),(828,1.33),(852,1.08),(844,1.11),(869,1.05),(880,0.99),(863,1.20),(882,1.88),(871,1.39),(871,1.45),(874,1.08),
               (948,1.39),(964,1.53),(972,1.64),(980,1.57),(950,1.60),(994,1.48),(967,1.23),(980,1.33),(956,1.14),
               (1059,1.98),(1079,1.90),(1098,1.90),(1084,1.76),(1106,1.76),(1076,1.60),(1100,1.54),(1111,1.59),(1062,1.42),(1087,1.20),(1070,1.33),(1100,1.17),
               (1174,1.73),(1193,1.76),(1204,1.54),(1188,1.39),(1171,1.48),(1196,1.20),(1177,1.23),(1209,1.23),
               (1253,2.35),(1253,2.16),(1264,2.35),(1264,2.10),(1253,1.85),(1272,1.73),(1256,1.54),(1280,1.42),(1261,1.36),
               (1327,1.82),(1348,1.88),(1329,1.67),(1354,1.73),(1337,1.51),(1354,1.54),(1340,1.30),(1332,1.14),(1346,1.02),
               (1395,2.10),(1410,2.15),(1406,2.28),(1397,1.73),(1411,1.70),(1389,1.51),(1408,1.51),(1395,1.23),(1411,1.23),
               (1444,2.01),(1452,2.13),(1446,1.76),(1449,1.57),(1444,1.36),(1439,2.40)]

BLACK = '#1a1a1a'
GREY = '#999999'
W, H = 1920, 1364


def panel(box, xlim, letter, letter_xy, xlabel_xy, ylabel_xy, bounds, ticks, gaps, top, black, grey):
    left, right, y8, y0 = box
    ax = fig.add_axes([left / W, 1 - y0 / H, (right - left) / W, (y0 - y8) / H])
    ax.set_xlim(xlim)
    ax.set_ylim(0, 8)

    top = np.array(top, dtype=float)
    for i in range(len(bounds) - 1):
        col = BLACK if i % 2 == 0 else GREY
        m = (top[:, 0] >= bounds[i]) & (top[:, 0] <= bounds[i + 1])
        xs = np.r_[bounds[i], top[m, 0], bounds[i + 1]]
        ys = np.r_[top[m, 1][0], top[m, 1], top[m, 1][-1]]
        ax.fill_between(xs, 0, ys, color=col, lw=0, zorder=2 if i % 2 == 0 else 1)
        ax.scatter(top[m, 0], top[m, 1], s=18, color=col, lw=0, zorder=2 if i % 2 == 0 else 1)

    for g, h in gaps:
        ax.vlines(g, 0, h, color='white', lw=1.5, zorder=3)

    grey = np.array(grey)
    black = np.array(black)
    ax.scatter(grey[:, 0], grey[:, 1], s=20, color=GREY, lw=0, zorder=4, clip_on=False)
    ax.scatter(black[:, 0], black[:, 1], s=20, color=BLACK, lw=0, zorder=5, clip_on=False)
    ax.axhline(threshold, color='#f26d6d', lw=1.3, zorder=6)

    for s in ['top', 'right']:
        ax.spines[s].set_visible(False)
    ax.spines['left'].set_bounds(0, 8)
    ax.spines['bottom'].set_bounds(ticks[0], ticks[-1])
    ax.spines['left'].set_color('#444444')
    ax.spines['bottom'].set_color('#444444')
    ax.set_yticks([0, 2, 4, 6, 8])
    ax.set_xticks(ticks)
    ax.set_xticklabels(tick_labels)
    ax.tick_params(axis='both', length=7, width=0.8, color='#444444', labelsize=17)
    ax.tick_params(axis='y', pad=7)
    ax.tick_params(axis='x', pad=6)

    fig.text(letter_xy[0] / W, 1 - letter_xy[1] / H, letter, fontsize=33, fontweight='bold', ha='center', va='center')
    fig.text(xlabel_xy[0] / W, 1 - xlabel_xy[1] / H, 'Chromosome', fontsize=18, ha='center', va='center')
    fig.text(ylabel_xy[0] / W, 1 - ylabel_xy[1] / H, r'$\mathrm{-log}_{10}(\mathit{p})$', fontsize=20,
             rotation=90, ha='center', va='center')


fig = plt.figure(figsize=(19.2, 13.64), dpi=100, facecolor='white')
panel((113, 953, 85, 532), (185, 1557), 'A', (544, 27), (547, 618), (24, 310), A_bounds, A_ticks, A_gaps, A_top, A_black + A_black_band, A_grey + A_grey_band)
panel((1069, 1914, 95, 531), (178, 1559), 'B', (1469, 27), (1491, 614), (982, 312), B_bounds, B_ticks, B_gaps, B_top, B_black + B_black_band, B_grey + B_grey_band)
panel((110, 951, 836, 1269), (179, 1553), 'C', (544, 796), (530, 1351), (24, 1053), C_bounds, C_ticks, C_gaps, C_top, C_black + C_black_band, C_grey + C_grey_band)
panel((1076, 1914, 836, 1268), (189, 1559), 'D', (1469, 796), (1495, 1351), (988, 1053), D_bounds, D_ticks, D_gaps, D_top, D_black + D_black_band, D_grey + D_grey_band)

fig.savefig('out.png', dpi=100)
